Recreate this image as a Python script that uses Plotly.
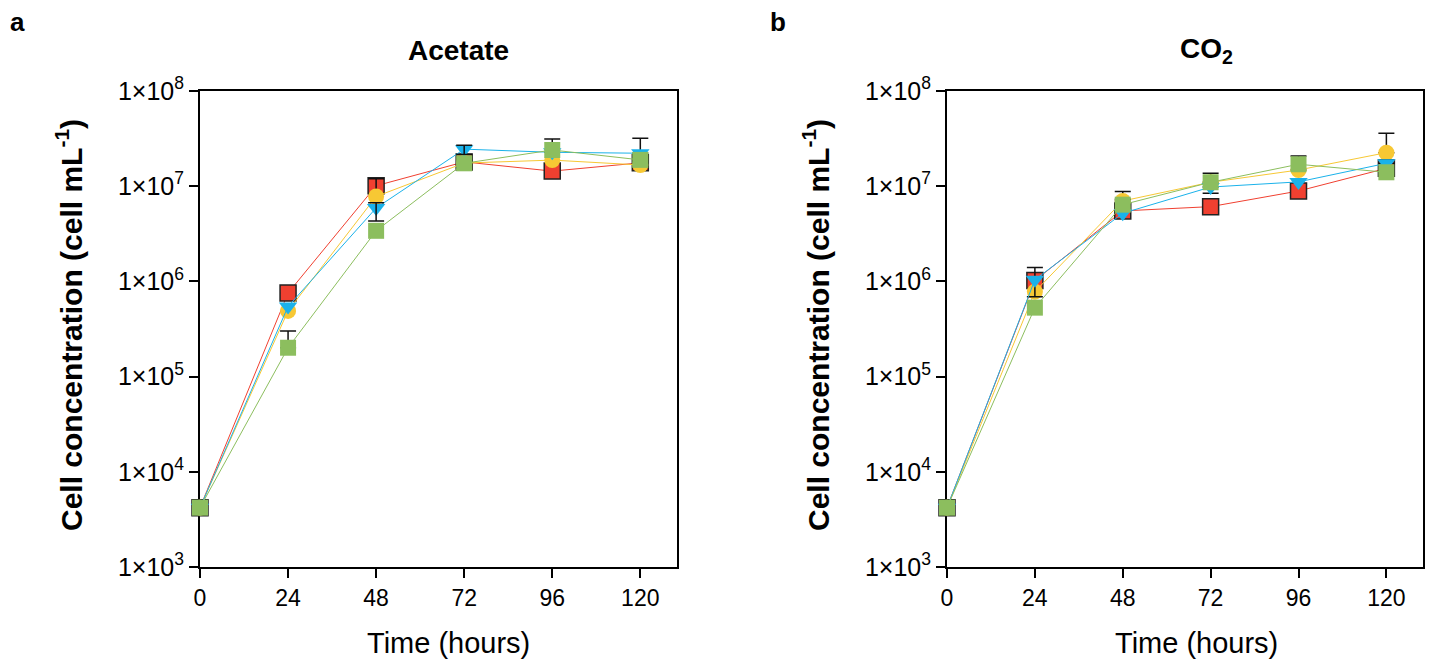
import plotly.graph_objects as go

time_h = [0, 24, 48, 72, 96, 120]
series_names = ["Red", "Yellow", "Blue", "Green"]

# Panel a: Acetate (cells per mL)
acetate_red = [4200, 755000, 10.1e6, 18.0e6, 14.4e6, 17.6e6]
acetate_yellow = [4200, 490000, 7.8e6, 17.5e6, 18.8e6, 16.7e6]
acetate_blue = [4200, 545000, 5.9e6, 24.5e6, 22.7e6, 22.2e6]
acetate_green = [4200, 201000, 3.4e6, 17.4e6, 24.0e6, 18.9e6]
# error bars (upper / lower), cells per mL
acetate_red_up = [0, 140000, 1.9e6, 0, 0, 0]
acetate_red_dn = [0, 0, 1.7e6, 0, 0, 0]
acetate_yellow_up = [0, 0, 0, 0, 0, 0]
acetate_yellow_dn = [0, 0, 0, 0, 0, 0]
acetate_blue_up = [0, 0, 0.8e6, 2.5e6, 8.6e6, 9.7e6]
acetate_blue_dn = [0, 0, 1.6e6, 3.0e6, 0, 0]
acetate_green_up = [0, 100000, 0, 0, 0, 0]
acetate_green_dn = [0, 0, 0, 0, 0, 0]

# Panel b: CO2 (cells per mL)
co2_red = [4200, 1.02e6, 5.5e6, 6.1e6, 8.9e6, 15.4e6]
co2_yellow = [4200, 780000, 7.0e6, 11.0e6, 14.8e6, 22.5e6]
co2_blue = [4200, 1.04e6, 5.2e6, 9.8e6, 11.1e6, 17.4e6]
co2_green = [4200, 530000, 6.4e6, 11.0e6, 17.0e6, 14.0e6]
co2_red_up = [0, 0, 0, 0, 0, 3.0e6]
co2_red_dn = [0, 0, 0, 0, 0, 0]
co2_yellow_up = [0, 0, 1.8e6, 2.7e6, 6.0e6, 13.5e6]
co2_yellow_dn = [0, 0, 0, 0, 0, 0]
co2_blue_up = [0, 360000, 0, 0, 0, 1.5e6]
co2_blue_dn = [0, 350000, 0, 1.35e6, 0, 0]
co2_green_up = [0, 0, 0.9e6, 0, 0, 0]
co2_green_dn = [0, 0, 0, 0, 0, 0]

y_tickvals = [1e3, 1e4, 1e5, 1e6, 1e7, 1e8]
y_ticktext = ["1×10<sup>%d</sup>" % e for e in range(3, 9)]
x_tickvals = [0, 24, 48, 72, 96, 120]

colors = {"Red": "#F04030", "Yellow": "#F7C834", "Blue": "#1AB2EA", "Green": "#8CBE5E"}
symbols = {"Red": "square", "Yellow": "circle", "Blue": "triangle-down", "Green": "square"}
outline = {"Red": 1.5, "Yellow": 0, "Blue": 0, "Green": 0}
# error bars drawn on top of their own marker (panel, series, time index)
err_on_top = {("a", "Red", 2), ("a", "Blue", 2), ("a", "Blue", 3)}

fig = go.Figure()

panels = [
    ("a", "x", "y",
     [acetate_red, acetate_yellow, acetate_blue, acetate_green],
     [acetate_red_up, acetate_yellow_up, acetate_blue_up, acetate_green_up],
     [acetate_red_dn, acetate_yellow_dn, acetate_blue_dn, acetate_green_dn]),
    ("b", "x2", "y2",
     [co2_red, co2_yellow, co2_blue, co2_green],
     [co2_red_up, co2_yellow_up, co2_blue_up, co2_green_up],
     [co2_red_dn, co2_yellow_dn, co2_blue_dn, co2_green_dn]),
]


def err_trace(xa, ya, idx, v, up, dn):
    return go.Scatter(
        x=[time_h[i] for i in idx], y=[v[i] for i in idx], xaxis=xa, yaxis=ya,
        mode="markers", marker=dict(size=1, color="rgba(0,0,0,0)"),
        error_y=dict(type="data", symmetric=False,
                     array=[up[i] for i in idx], arrayminus=[dn[i] for i in idx],
                     color="#111111", thickness=1.5, width=8),
        cliponaxis=False, showlegend=False, hoverinfo="skip")


for key, xa, ya, vals, ups, dns in panels:
    for name, v, up, dn in zip(series_names, vals, ups, dns):
        has = [i for i in range(len(time_h)) if up[i] > 0 or dn[i] > 0]
        under = [i for i in has if (key, name, i) not in err_on_top]
        over = [i for i in has if (key, name, i) in err_on_top]
        if under:
            fig.add_trace(err_trace(xa, ya, under, v, up, dn))
        fig.add_trace(go.Scatter(
            x=time_h, y=v, xaxis=xa, yaxis=ya, name=name, mode="lines+markers",
            line=dict(color=colors[name], width=1),
            marker=dict(symbol=symbols[name], size=16, color=colors[name],
                        line=dict(color="#222222", width=outline[name])),
            cliponaxis=False, showlegend=False,
        ))
        if over:
            fig.add_trace(err_trace(xa, ya, over, v, up, dn))

axis_common = dict(
    showline=True, linecolor="black", linewidth=2, mirror=True,
    ticks="outside", ticklen=9, tickwidth=2, tickcolor="black",
    showgrid=False, zeroline=False, layer="below traces", automargin=False,
)
xfont = dict(family="Liberation Sans", size=23, color="black")
yfont = dict(family="Liberation Sans", size=25, color="black")

xd_a = [200 / 1436, 677 / 1436]
xd_b = [947 / 1436, 1423 / 1436]
yd = [(662 - 567) / 662, (662 - 91) / 662]

fig.update_layout(
    width=1436, height=662, margin=dict(l=0, r=0, t=0, b=0, autoexpand=False),
    paper_bgcolor="white", plot_bgcolor="white",
    xaxis=dict(domain=xd_a, range=[0, 130], tickvals=x_tickvals, anchor="y",
               tickfont=xfont, **axis_common),
    yaxis=dict(domain=yd, type="log", range=[3, 8], tickvals=y_tickvals, ticktext=y_ticktext,
               anchor="x", tickfont=yfont, **axis_common),
    xaxis2=dict(domain=xd_b, range=[0, 130], tickvals=x_tickvals, anchor="y2",
                tickfont=xfont, **axis_common),
    yaxis2=dict(domain=yd, type="log", range=[3, 8], tickvals=y_tickvals, ticktext=y_ticktext,
                anchor="x2", tickfont=yfont, **axis_common),
)


def ann(text, x, y, size, bold=False, angle=0):
    fig.add_annotation(
        text="<b>%s</b>" % text if bold else text, x=x / 1436, y=1 - y / 662,
        xref="paper", yref="paper", showarrow=False, textangle=angle,
        xanchor="center", yanchor="middle",
        font=dict(family="Liberation Sans", size=size, color="black"))


ann("a", 17, 22, 26, bold=True)
ann("b", 778, 22, 26, bold=True)
ann("Acetate", 458, 50, 28, bold=True)
ann("CO<sub>2</sub>", 1206, 50, 28, bold=True)
ann("Cell concentration (cell mL<sup>-1</sup>)", 69, 325, 30, bold=True, angle=-90)
ann("Cell concentration (cell mL<sup>-1</sup>)", 816, 325, 30, bold=True, angle=-90)
ann("Time (hours)", 448, 643, 29)
ann("Time (hours)", 1196, 643, 29)

fig.write_html("out.html")
